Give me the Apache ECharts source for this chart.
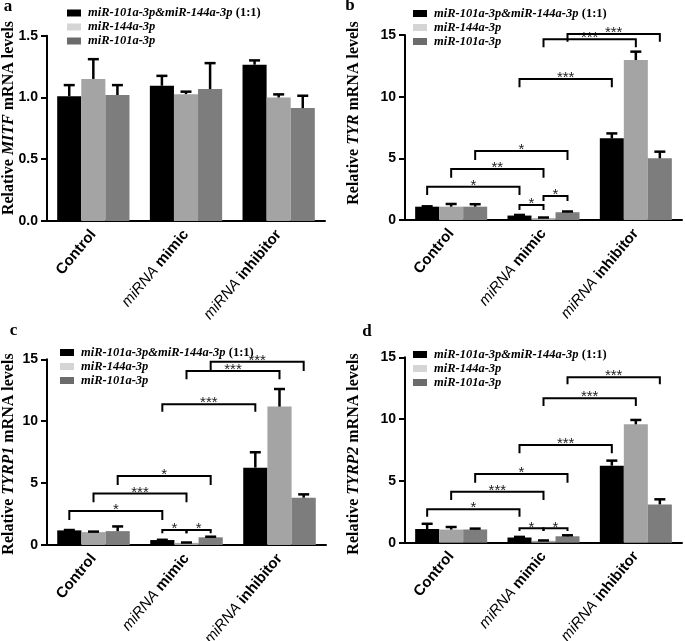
<!DOCTYPE html>
<html><head><meta charset="utf-8">
<script src="https://cdn.jsdelivr.net/npm/echarts@6/dist/echarts.min.js"></script>
<style>html,body{margin:0;padding:0;background:#fff}#c{width:685px;height:641px}</style>
</head><body><div id="c"></div>
<script>
// ---------- data ----------
const CATEGORIES = ['Control', 'miRNA mimic', 'miRNA inhibitor'];
const SERIES_NAMES = ['miR-101a-3p&miR-144a-3p (1:1)', 'miR-144a-3p', 'miR-101a-3p'];
const PANEL_LETTERS = ['a', 'b', 'c', 'd'];
const GENES = ['MITF', 'TYR', 'TYRP1', 'TYRP2'];

const Y_TICKS_MITF = ['0.0', '0.5', '1.0', '1.5'];
const Y_TICKS_OTHER = ['0', '5', '10', '15'];

// a: MITF
const MITF_COMBO = [1.01, 1.095, 1.265];
const MITF_COMBO_SD = [0.09, 0.08, 0.035];
const MITF_144 = [1.15, 1.027, 1.00];
const MITF_144_SD = [0.16, 0.02, 0.025];
const MITF_101 = [1.02, 1.068, 0.914];
const MITF_101_SD = [0.08, 0.21, 0.10];

// b: TYR
const TYR_COMBO = [1.08, 0.36, 6.62];
const TYR_COMBO_SD = [0.03, 0.05, 0.40];
const TYR_144 = [1.08, 0.15, 12.97];
const TYR_144_SD = [0.22, 0.05, 0.68];
const TYR_101 = [1.08, 0.63, 5.0];
const TYR_101_SD = [0.2, 0.06, 0.54];

// c: TYRP1
const TYRP1_COMBO = [1.18, 0.40, 6.25];
const TYRP1_COMBO_SD = [0.03, 0.02, 1.24];
const TYRP1_144 = [1.04, 0.17, 11.18];
const TYRP1_144_SD = [0.04, 0.03, 1.42];
const TYRP1_101 = [1.12, 0.62, 3.82];
const TYRP1_101_SD = [0.38, 0.05, 0.27];

// d: TYRP2
const TYRP2_COMBO = [1.11, 0.42, 6.23];
const TYRP2_COMBO_SD = [0.42, 0.05, 0.41];
const TYRP2_144 = [1.06, 0.15, 9.58];
const TYRP2_144_SD = [0.21, 0.03, 0.35];
const TYRP2_101 = [1.07, 0.52, 3.10];
const TYRP2_101_SD = [0.07, 0.08, 0.41];

// significance brackets: [cat1, bar1, cat2, bar2, lineValue, legEndValue]
const TYR_SIG = [[0,0,1,0,2.70,2.03],[0,1,1,1,4.14,3.43],[0,2,1,2,5.60,4.87],[1,0,1,1,1.22,0.81],[1,1,1,2,1.95,1.54],[1,0,2,0,11.43,10.76],[1,1,2,1,14.65,14.0],[1,2,2,2,15.08,14.46]];
const TYR_SIG_LABELS = ['*','**','*','*','*','***','***','***'];
const TYRP1_SIG = [[0,0,1,0,2.75,2.02],[0,1,1,1,4.17,3.45],[0,2,1,2,5.57,4.85],[1,0,1,1,1.21,0.94],[1,1,1,2,1.21,0.94],[1,0,2,0,11.37,10.77],[1,1,2,1,14.05,13.38],[1,2,2,2,14.8,14.05]];
const TYRP1_SIG_LABELS = ['*','***','*','*','*','***','***','***'];
const TYRP2_SIG = [[0,0,1,0,2.70,2.1],[0,1,1,1,4.13,3.45],[0,2,1,2,5.56,4.85],[1,0,1,1,1.16,0.95],[1,1,1,2,1.16,0.95],[1,0,2,0,7.9,7.23],[1,1,2,1,11.68,11.06],[1,2,2,2,13.38,12.81]];
const TYRP2_SIG_LABELS = ['*','***','*','*','*','***','***','***'];

// ---------- styling / layout ----------
const BAR_COLORS = ['#000000', '#a4a4a4', '#7d7d7d'];
const LEGEND_COLORS = ['#000000', '#d5d5d5', '#6b6b6b'];
const GAP = 0.22;

const PANELS = [
  {means:[MITF_COMBO,MITF_144,MITF_101], sds:[MITF_COMBO_SD,MITF_144_SD,MITF_101_SD], ticks:Y_TICKS_MITF, sig:[], sigLabels:[],
   grid:{left:47, top:35.7, width:278, height:185.3}, legend:{left:67, top:6.5}, title:{x:9, y:118}, letter:{x:8, y:7}},
  {means:[TYR_COMBO,TYR_144,TYR_101], sds:[TYR_COMBO_SD,TYR_144_SD,TYR_101_SD], ticks:Y_TICKS_OTHER, sig:TYR_SIG, sigLabels:TYR_SIG_LABELS,
   grid:{left:405, top:35, width:277, height:185}, legend:{left:413, top:7}, title:{x:354, y:113}, letter:{x:350, y:6}},
  {means:[TYRP1_COMBO,TYRP1_144,TYRP1_101], sds:[TYRP1_COMBO_SD,TYRP1_144_SD,TYRP1_101_SD], ticks:Y_TICKS_OTHER, sig:TYRP1_SIG, sigLabels:TYRP1_SIG_LABELS,
   grid:{left:47, top:359.3, width:279, height:185.7}, legend:{left:60, top:346}, title:{x:9, y:454}, letter:{x:13.5, y:331}},
  {means:[TYRP2_COMBO,TYRP2_144,TYRP2_101], sds:[TYRP2_COMBO_SD,TYRP2_144_SD,TYRP2_101_SD], ticks:Y_TICKS_OTHER, sig:TYRP2_SIG, sigLabels:TYRP2_SIG_LABELS,
   grid:{left:405, top:357.3, width:277, height:185.4}, legend:{left:413, top:348}, title:{x:354, y:454}, letter:{x:367, y:332}}
];

const SANS = '"Liberation Sans", Arial, sans-serif';
const SERIF = '"Liberation Serif", "Times New Roman", serif';

function errRenderer(params, api) {
  const band = api.size([1, 0])[0];
  const bw = band * (1 - GAP) / 3;
  const cx = api.coord([api.value(0), 0])[0] + (api.value(1) - 1) * bw;
  const yM = api.coord([0, api.value(2)])[1];
  const yT = api.coord([0, api.value(3)])[1];
  return {type: 'group', children: [
    {type: 'line', shape: {x1: cx, y1: yM, x2: cx, y2: yT}, style: {stroke: '#000', lineWidth: 2.5}},
    {type: 'line', shape: {x1: cx - 5.5, y1: yT, x2: cx + 5.5, y2: yT}, style: {stroke: '#000', lineWidth: 2.5}}
  ]};
}
function bracketRenderer(labels) {
  return function (params, api) {
    const band = api.size([1, 0])[0];
    const bw = band * (1 - GAP) / 3;
    const x1 = api.coord([api.value(0), 0])[0] + (api.value(1) - 1) * bw;
    const x2 = api.coord([api.value(2), 0])[0] + (api.value(3) - 1) * bw;
    const yT = api.coord([0, api.value(4)])[1];
    const yB = api.coord([0, api.value(5)])[1];
    return {type: 'group', children: [
      {type: 'polyline', shape: {points: [[x1, yB], [x1, yT], [x2, yT], [x2, yB]]}, style: {stroke: '#000', lineWidth: 2, fill: null}},
      {type: 'text', style: {x: (x1 + x2) / 2, y: yT - 1, text: labels[params.dataIndex], align: 'center', verticalAlign: 'middle', font: '15px ' + SANS, fill: '#222'}}
    ]};
  };
}

const grids = [], xAxes = [], yAxes = [], series = [], legends = [], graphics = [];
PANELS.forEach((p, g) => {
  grids.push(Object.assign({outerBoundsMode: 'none', containLabel: false}, p.grid));
  xAxes.push({
    type: 'category', gridIndex: g, data: CATEGORIES,
    axisLine: {lineStyle: {color: '#000', width: 2}},
    axisTick: {alignWithLabel: true, length: 6, lineStyle: {color: '#000', width: 2}},
    axisLabel: {
      interval: 0, rotate: 50, margin: 11, color: '#000',
      fontFamily: SANS, fontWeight: 'bold', fontSize: 15,
      formatter: v => v.startsWith('miRNA ') ? '{i|miRNA} ' + v.slice(6) : v,
      rich: {
        i: {fontFamily: SANS, fontStyle: 'italic', fontWeight: 'normal', fontSize: 15, color: '#000'}
      }
    }
  });
  const tmax = parseFloat(p.ticks[p.ticks.length - 1]);
  yAxes.push({
    type: 'value', gridIndex: g, min: 0, max: tmax, interval: tmax / (p.ticks.length - 1),
    splitLine: {show: false},
    axisLine: {show: true, lineStyle: {color: '#000', width: 2}},
    axisTick: {show: true, length: 6, lineStyle: {color: '#000', width: 2}},
    axisLabel: {margin: 9, color: '#000', fontFamily: SANS, fontWeight: 'bold', fontSize: 14,
      formatter: (v, i) => p.ticks[i]}
  });
  for (let s = 0; s < 3; s++) {
    series.push({
      type: 'bar', name: SERIES_NAMES[s], xAxisIndex: g, yAxisIndex: g,
      data: p.means[s], barGap: '0%', barCategoryGap: (GAP * 100) + '%',
      itemStyle: {color: BAR_COLORS[s]}, z: 2, animation: false
    });
  }
  const errData = [];
  for (let s = 0; s < 3; s++) for (let c = 0; c < 3; c++) errData.push([c, s, p.means[s][c], p.means[s][c] + p.sds[s][c]]);
  series.push({type: 'custom', xAxisIndex: g, yAxisIndex: g, data: errData, encode: {x: 0, y: 3}, renderItem: errRenderer, z: 3, clip: false, animation: false, silent: true});
  if (p.sig.length) {
    series.push({type: 'custom', xAxisIndex: g, yAxisIndex: g, data: p.sig, encode: {x: 0, y: 4}, renderItem: bracketRenderer(p.sigLabels), z: 4, clip: false, animation: false, silent: true});
  }
  legends.push({
    orient: 'vertical', left: p.legend.left, top: p.legend.top, padding: 0,
    itemWidth: 14, itemHeight: 7, itemGap: 1, selectedMode: false, icon: 'rect',
    data: SERIES_NAMES.map((n, i) => ({name: n, itemStyle: {color: LEGEND_COLORS[i], borderWidth: 0}})),
    formatter: n => {
      const m = n.match(/^(.*?)\s*(\(1:1\))$/);
      return m ? '{i|' + m[1] + '} {b|' + m[2] + '}' : '{i|' + n + '}';
    },
    textStyle: {lineHeight: 12.5, padding: [0, 0, 0, 2], rich: {
      i: {fontFamily: SERIF, fontStyle: 'italic', fontWeight: 'bold', fontSize: 12.5, color: '#000', lineHeight: 12.5},
      b: {fontFamily: SERIF, fontWeight: 'bold', fontSize: 12.5, color: '#000', lineHeight: 12.5}
    }}
  });
  graphics.push({
    type: 'text', x: p.title.x, y: p.title.y, rotation: Math.PI / 2,
    style: {text: '{r|Relative }{g|' + GENES[g] + '}{r| mRNA levels}', align: 'center', verticalAlign: 'middle',
      rich: {r: {fontFamily: SERIF, fontWeight: 'bold', fontSize: 16, fill: '#000'},
             g: {fontFamily: SERIF, fontWeight: 'bold', fontStyle: 'italic', fontSize: 16, fill: '#000'}}}
  });
  graphics.push({
    type: 'text', x: p.letter.x, y: p.letter.y,
    style: {text: PANEL_LETTERS[g], align: 'center', verticalAlign: 'middle', font: 'bold 17px ' + SERIF, fill: '#000'}
  });
});

const chart = echarts.init(document.getElementById('c'), null, {renderer: 'canvas'});
chart.setOption({
  animation: false, backgroundColor: '#fff',
  grid: grids, xAxis: xAxes, yAxis: yAxes, series: series, legend: legends, graphic: graphics
});
</script></body></html>
